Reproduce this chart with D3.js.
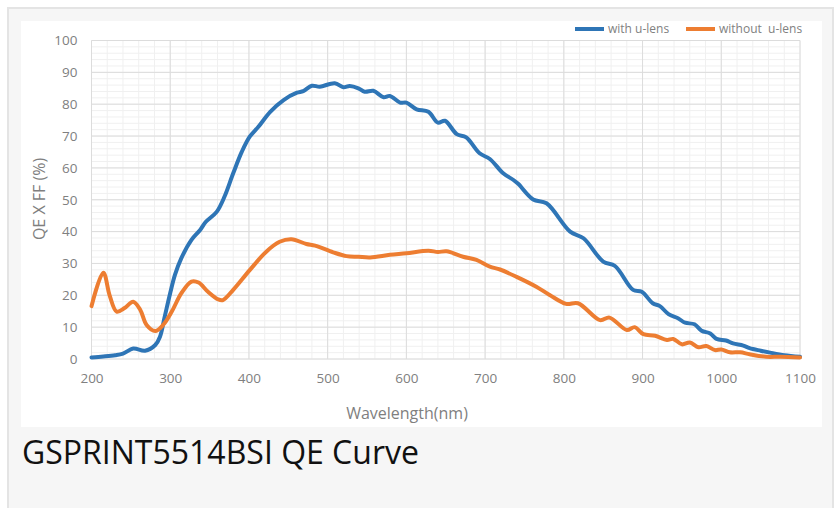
<!DOCTYPE html>
<html>
<head>
<meta charset="utf-8">
<script src="https://cdn.jsdelivr.net/npm/d3@7"></script>
<style>
  body { margin: 0; background: #fff; }
  text { font-family: "Open Sans", sans-serif; }
</style>
</head>
<body>
<svg id="chart" width="836" height="508"></svg>
<script>
// with u-lens
const wlWith = [200, 215, 230, 240, 253, 268, 281, 287, 293, 300, 306, 314, 327, 338, 345, 359, 369, 380, 391, 401,
  412, 427, 444, 461, 469, 480, 490, 509, 520, 528, 539, 547, 558, 571, 579, 592, 600, 613, 628, 640,
  649, 664, 676, 693, 706, 723, 736, 742, 761, 778, 808, 825, 850, 865, 888, 899, 913, 922, 933, 945,
  954, 966, 975, 986, 994, 1006, 1015, 1028, 1036, 1050, 1062, 1080, 1100];
const qeWith = [0.5, 0.8, 1.2, 1.7, 3.3, 2.6, 4.4, 7, 13.3, 20.7, 26.4, 31.6, 37.4, 40.5, 43, 46.2, 51, 58.3, 65.1, 69.8,
  72.9, 77.6, 81.3, 83.6, 84.1, 85.8, 85.5, 86.6, 85.3, 85.7, 85, 83.9, 84.2, 82.2, 82.6, 80.5, 80.5, 78.4, 77.6, 74.2,
  74.8, 70.6, 69.6, 64.6, 62.8, 58.3, 56.2, 55, 50.1, 48.9, 40, 37.9, 30.6, 29.2, 21.7, 21.1, 17.5, 16.6, 14.1, 12.8,
  11.4, 10.9, 8.9, 8.0, 6.3, 5.8, 4.9, 4.2, 3.4, 2.6, 2, 1.2, 0.7];

// without u-lens
const wlWithout = [200, 215, 223, 232, 242, 253, 262, 270, 281, 291, 302, 314, 327, 336, 348, 361, 367, 380, 401, 422,
  439, 454, 473, 484, 507, 524, 539, 554, 579, 600, 628, 640, 651, 672, 689, 706, 719, 740, 765, 782,
  803, 818, 846, 858, 880, 890, 901, 916, 931, 939, 950, 960, 971, 981, 992, 1000, 1011, 1024, 1036, 1057,
  1075, 1100];
const qeWithout = [16.6, 27.1, 20, 14.9, 16, 18, 15.4, 10.7, 8.8, 10.7, 14.9, 20.6, 24.3, 24, 21.1, 18.7, 18.5, 21.7, 27.9, 33.7,
  36.8, 37.6, 36.1, 35.6, 33.5, 32.3, 32.1, 31.9, 32.7, 33.2, 34, 33.6, 33.8, 32.1, 31.1, 29, 28.1, 25.8, 22.7, 20.1,
  17.3, 17.5, 12.2, 13, 9.1, 10, 7.8, 7.3, 6, 6.3, 4.6, 5.2, 3.7, 4.1, 2.8, 3, 2.1, 2.1, 1.5, 0.7,
  0.7, 0.5];

const xTicks = [200, 300, 400, 500, 600, 700, 800, 900, 1000, 1100];
const yTicks = [0, 10, 20, 30, 40, 50, 60, 70, 80, 90, 100];
const seriesNames = ['with u-lens', 'without  u-lens'];
const seriesColors = ['#2e75b6', '#ed7d31'];
const title = 'GSPRINT5514BSI QE Curve';

const d3svg = d3.select('#chart');

// page frame + chart area
d3svg.append('rect')
    .attr('x', 8).attr('y', 8).attr('width', 825).attr('height', 520)
    .attr('fill', '#f6f6f6').attr('stroke', '#e4e4e4').attr('stroke-width', 2);
d3svg.append('rect')
    .attr('x', 21).attr('y', 21).attr('width', 801).attr('height', 406)
    .attr('fill', '#fff');

const margin = {top: 40.5, left: 91.5};
const width = 708.5;
const height = 318.5;

const x = d3.scaleLinear().domain([200, 1100]).range([0, width]);
const y = d3.scaleLinear().domain([0, 100]).range([height, 0]);

const g = d3svg.append('g')
    .attr('transform', 'translate(' + margin.left + ',' + margin.top + ')');

// minor grid
g.append('g').selectAll('line')
    .data(d3.range(200, 1101, 20))
    .join('line')
    .attr('x1', d => x(d)).attr('x2', d => x(d))
    .attr('y1', 0).attr('y2', height)
    .attr('stroke', '#f0f0f0').attr('stroke-width', 1);
g.append('g').selectAll('line')
    .data(d3.range(0, 101, 2))
    .join('line')
    .attr('x1', 0).attr('x2', width)
    .attr('y1', d => y(d)).attr('y2', d => y(d))
    .attr('stroke', '#f0f0f0').attr('stroke-width', 1);

// major grid
g.append('g').selectAll('line')
    .data(xTicks)
    .join('line')
    .attr('x1', d => x(d)).attr('x2', d => x(d))
    .attr('y1', 0).attr('y2', height)
    .attr('stroke', '#dcdcdc').attr('stroke-width', 1);
g.append('g').selectAll('line')
    .data(yTicks)
    .join('line')
    .attr('x1', 0).attr('x2', width)
    .attr('y1', d => y(d)).attr('y2', d => y(d))
    .attr('stroke', '#dcdcdc').attr('stroke-width', 1);

// axes (labels only)
const xAxis = g.append('g')
    .attr('transform', 'translate(0,' + height + ')')
    .call(d3.axisBottom(x).tickValues(xTicks).tickFormat(d3.format('d')).tickSize(0).tickPadding(14));
const yAxis = g.append('g')
    .call(d3.axisLeft(y).tickValues(yTicks).tickSize(0).tickPadding(14));
[xAxis, yAxis].forEach(a => {
  a.select('.domain').remove();
  a.selectAll('text')
      .attr('fill', '#808080')
      .style('font-size', '13.5px')
      .style('font-family', '"Open Sans", sans-serif');
});

// lines
const line = d3.line()
    .x(d => x(d[0]))
    .y(d => y(d[1]))
    .curve(d3.curveCatmullRom.alpha(0.5));

const series = [
  d3.zip(wlWith, qeWith),
  d3.zip(wlWithout, qeWithout)
];
series.forEach((s, i) => {
  g.append('path')
      .datum(s)
      .attr('fill', 'none')
      .attr('stroke', seriesColors[i])
      .attr('stroke-width', 4)
      .attr('stroke-linejoin', 'round')
      .attr('stroke-linecap', 'round')
      .attr('d', line);
});

// axis titles
d3svg.append('text')
    .attr('transform', 'translate(45,199) rotate(-90)')
    .attr('text-anchor', 'middle')
    .attr('fill', '#7f7f7f')
    .style('font-size', '16px')
    .text('QE X FF (%)');
d3svg.append('text')
    .attr('x', 407)
    .attr('y', 419)
    .attr('text-anchor', 'middle')
    .attr('fill', '#7f7f7f')
    .style('font-size', '16px')
    .text('Wavelength(nm)');

// legend
const legendX = [575, 686];
seriesNames.forEach((n, i) => {
  d3svg.append('line')
      .attr('x1', legendX[i]).attr('x2', legendX[i] + 29)
      .attr('y1', 29).attr('y2', 29)
      .attr('stroke', seriesColors[i]).attr('stroke-width', 4);
  d3svg.append('text')
      .attr('x', legendX[i] + 33)
      .attr('y', 33)
      .attr('fill', '#7f7f7f')
      .style('font-size', '12px')
      .style('white-space', 'pre')
      .attr('xml:space', 'preserve')
      .text(n);
});

// title
d3svg.append('text')
    .attr('x', 22)
    .attr('y', 464)
    .attr('fill', '#111')
    .style('font-size', '32px')
    .text(title);
</script>
</body>
</html>
